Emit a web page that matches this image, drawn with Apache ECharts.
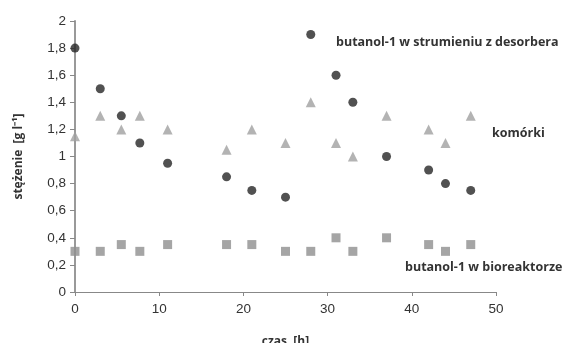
<!DOCTYPE html>
<html>
<head>
<meta charset="utf-8">
<script src="https://cdn.jsdelivr.net/npm/echarts@6/dist/echarts.min.js"></script>
<style>
html, body { margin: 0; padding: 0; background: #fff; }
#chart { width: 563px; height: 343px; }
</style>
</head>
<body>
<div id="chart"></div>
<script>
// czas [h]
const czas = [0, 3, 5.5, 7.7, 11, 18, 21, 25, 28, 31, 33, 37, 42, 44, 47];
// butanol-1 w strumieniu z desorbera
const desorber = [1.8, 1.5, 1.3, 1.1, 0.95, 0.85, 0.75, 0.7, 1.9, 1.6, 1.4, 1.0, 0.9, 0.8, 0.75];
// komórki
const komorki = [1.15, 1.3, 1.2, 1.3, 1.2, 1.05, 1.2, 1.1, 1.4, 1.1, 1.0, 1.3, 1.2, 1.1, 1.3];
// butanol-1 w bioreaktorze
const bioreaktor = [0.3, 0.3, 0.35, 0.3, 0.35, 0.35, 0.35, 0.3, 0.3, 0.4, 0.3, 0.4, 0.35, 0.3, 0.35];

const pairs = (ys) => czas.map((x, i) => [x, ys[i]]);
const fmtComma = (v) => String(Math.round(v * 10) / 10).replace('.', ',');

const myChart = echarts.init(document.getElementById('chart'));
const tickFont = { color: '#333', fontSize: 13.5, fontFamily: 'Liberation Sans, Arial, sans-serif' };
const noteFont = { fill: '#333', fontSize: 12.5, fontWeight: 'bold', fontFamily: 'Open Sans, sans-serif' };

const option = {
    animation: false,
    grid: { left: 75, right: 67, top: 21, bottom: 51, outerBoundsMode: 'none' },
    xAxis: {
        type: 'value',
        min: 0, max: 50, interval: 10,
        name: 'czas  [h]',
        nameLocation: 'middle',
        nameGap: 44,
        nameTextStyle: { color: '#333', fontSize: 12, fontWeight: 'bold', fontFamily: 'Open Sans, sans-serif' },
        axisLine: { lineStyle: { color: '#888', width: 1 } },
        axisTick: { show: true, length: 4, lineStyle: { color: '#888' } },
        axisLabel: Object.assign({ margin: 10 }, tickFont),
        splitLine: { show: false }
    },
    yAxis: {
        type: 'value',
        min: 0, max: 2, interval: 0.2,
        name: 'stężenie  [g l⁻¹]',
        nameLocation: 'middle',
        nameRotate: 90,
        nameGap: 50,
        nameTextStyle: { color: '#333', fontSize: 12, fontWeight: 'bold', fontFamily: 'Open Sans, sans-serif' },
        axisLine: { show: true, lineStyle: { color: '#999', width: 2 } },
        axisTick: { show: true, length: 5, lineStyle: { color: '#888' } },
        axisLabel: Object.assign({ margin: 9, formatter: fmtComma }, tickFont),
        splitLine: { show: false }
    },
    series: [
        {
            name: 'butanol-1 w strumieniu z desorbera',
            type: 'scatter',
            symbol: 'circle',
            symbolSize: 9,
            itemStyle: { color: '#262626' },
            data: pairs(desorber)
        },
        {
            name: 'komórki',
            type: 'scatter',
            symbol: 'triangle',
            symbolSize: 10,
            itemStyle: { color: '#a0a0a0' },
            data: pairs(komorki)
        },
        {
            name: 'butanol-1 w bioreaktorze',
            type: 'scatter',
            symbol: 'rect',
            symbolSize: 9,
            itemStyle: { color: '#8e8e8e' },
            data: pairs(bioreaktor)
        }
    ],
    graphic: [
        { type: 'text', left: 336, top: 36, style: Object.assign({ text: 'butanol-1 w strumieniu z desorbera' }, noteFont) },
        { type: 'text', left: 492, top: 127, style: Object.assign({ text: 'komórki' }, noteFont) },
        { type: 'text', left: 405, top: 261, style: Object.assign({ text: 'butanol-1 w bioreaktorze' }, noteFont) }
    ]
};

myChart.setOption(option);
window.addEventListener('resize', () => {
    myChart.resize();
});
</script>
</body>
</html>
